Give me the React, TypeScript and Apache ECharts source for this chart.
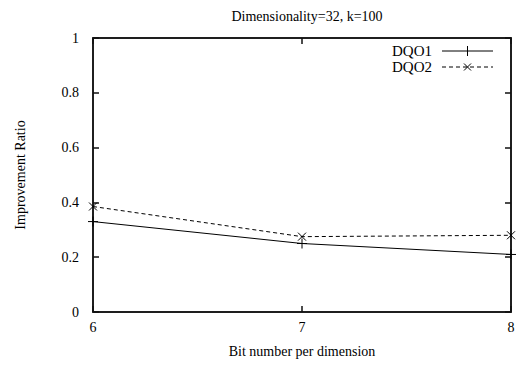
import React, { useEffect, useRef } from "react";
import * as echarts from "echarts";

const xValues = [6, 7, 8];
const dqo1 = [0.33, 0.25, 0.21];
const dqo2 = [0.385, 0.275, 0.28];
const seriesNames = ["DQO1", "DQO2"];
const titleText = "Dimensionality=32, k=100";
const xName = "Bit number per dimension";
const yName = "Improvement Ratio";

const FONT = "Liberation Serif";
const plusPath = "path://M0,5L10,5M5,0L5,10";
const crossPath = "path://M0,0L10,10M0,10L10,0";
const INK = "#000";
const AXIS_INK = "#111111";

export default function App() {
  const ref = useRef<HTMLDivElement>(null);
  useEffect(() => {
    if (!ref.current) return;
    const chart = echarts.init(ref.current, undefined, { renderer: "svg" });
    const toPairs = (arr: number[]) => xValues.map((x, i) => [x, arr[i]]);
    const axisLine = () => ({ show: true, onZero: false, lineStyle: { color: AXIS_INK, width: 1.5 } });
    const tickStyle = () => ({ show: true, inside: true, length: 6, lineStyle: { color: AXIS_INK, width: 1.5 } });
    const label = { color: INK, fontFamily: FONT, fontSize: 14 };
    chart.setOption({
      animation: false,
      backgroundColor: "#fff",
      textStyle: { fontFamily: FONT },
      title: {
        text: titleText,
        left: 302,
        top: 4,
        textAlign: "center",
        textStyle: { fontFamily: FONT, fontSize: 14, fontWeight: "normal", color: INK },
      },
      grid: { left: 93, right: 14, top: 38, bottom: 56, show: true, borderColor: AXIS_INK, borderWidth: 1.5, backgroundColor: "transparent" },
      xAxis: [
        {
          type: "value",
          min: 6,
          max: 8,
          interval: 1,
          axisLine: axisLine(),
          axisTick: tickStyle(),
          splitLine: { show: false },
          axisLabel: { ...label, margin: 8 },
          name: xName,
          nameLocation: "middle",
          nameGap: 32,
          nameTextStyle: { fontFamily: FONT, fontSize: 14, color: INK },
        },
        {
          type: "value",
          position: "top",
          min: 6,
          max: 8,
          interval: 1,
          axisLine: axisLine(),
          axisTick: tickStyle(),
          splitLine: { show: false },
          axisLabel: { show: false },
        },
      ],
      yAxis: [
        {
          type: "value",
          min: 0,
          max: 1,
          interval: 0.2,
          axisLine: axisLine(),
          axisTick: tickStyle(),
          splitLine: { show: false },
          axisLabel: { ...label, margin: 14, formatter: (v: number) => String(Math.round(v * 10) / 10) },
          name: yName,
          nameLocation: "middle",
          nameGap: 66,
          nameTextStyle: { fontFamily: FONT, fontSize: 14, color: INK },
        },
        {
          type: "value",
          position: "right",
          min: 0,
          max: 1,
          interval: 0.2,
          axisLine: axisLine(),
          axisTick: tickStyle(),
          splitLine: { show: false },
          axisLabel: { show: false },
        },
      ],
      series: [
        {
          name: seriesNames[0],
          type: "line",
          xAxisIndex: 0,
          yAxisIndex: 0,
          data: toPairs(dqo1),
          symbol: plusPath,
          symbolSize: 10,
          lineStyle: { color: INK, width: 1 },
          itemStyle: { color: "none", borderColor: INK, borderWidth: 1 },
        },
        {
          name: seriesNames[1],
          type: "line",
          xAxisIndex: 1,
          yAxisIndex: 1,
          data: toPairs(dqo2),
          symbol: crossPath,
          symbolSize: 8,
          lineStyle: { color: INK, width: 1, type: [4, 3] },
          itemStyle: { color: "none", borderColor: INK, borderWidth: 1 },
        },
      ],
      graphic: [
        { type: "text", x: 432, y: 43, style: { text: seriesNames[0], fontFamily: FONT, fontSize: 15, fill: INK, align: "right", verticalAlign: "top" } },
        { type: "text", x: 432, y: 59, style: { text: seriesNames[1], fontFamily: FONT, fontSize: 15, fill: INK, align: "right", verticalAlign: "top" } },
        { type: "line", shape: { x1: 442, y1: 51, x2: 493, y2: 51 }, style: { stroke: INK, lineWidth: 1 } },
        { type: "line", shape: { x1: 467.5, y1: 46, x2: 467.5, y2: 56 }, style: { stroke: INK, lineWidth: 1 } },
        { type: "line", shape: { x1: 442, y1: 67, x2: 493, y2: 67 }, style: { stroke: INK, lineWidth: 1, lineDash: [4, 3] } },
        { type: "line", shape: { x1: 464, y1: 63.5, x2: 471, y2: 70.5 }, style: { stroke: INK, lineWidth: 1 } },
        { type: "line", shape: { x1: 464, y1: 70.5, x2: 471, y2: 63.5 }, style: { stroke: INK, lineWidth: 1 } },
      ],
    });
    return () => chart.dispose();
  }, []);
  return <div ref={ref} style={{ width: 525, height: 368, position: "absolute", left: 0, top: 0 }} />;
}
